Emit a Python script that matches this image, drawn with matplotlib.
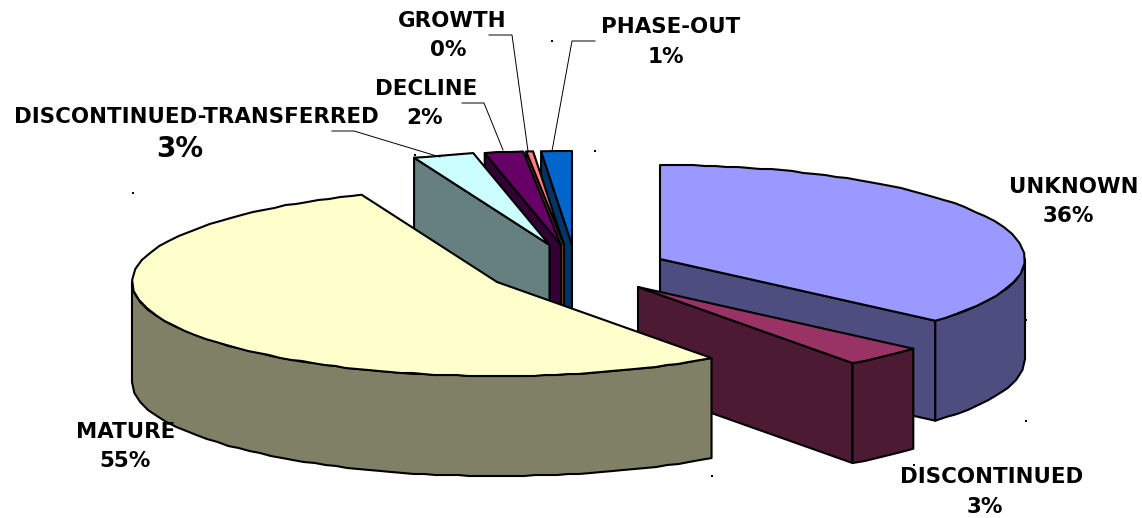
import numpy as np
import matplotlib
matplotlib.use("Agg")
import matplotlib.pyplot as plt

# clockwise from 12 o'clock, shares
slice_names = ["UNKNOWN", "DISCONTINUED", "MATURE", "DISCONTINUED-TRANSFERRED", "DECLINE", "GROWTH", "PHASE-OUT"]
slice_shares = [36.4, 3.6, 53.95, 2.7, 1.7, 0.3, 1.35]
pct_labels = ["36%", "3%", "55%", "3%", "2%", "0%", "1%"]

top_colors = ["#9999FF", "#993366", "#FFFFCC", "#CCFFFF", "#660066", "#FF8080", "#0066CC"]
side_colors = ["#4D4D80", "#4D1A33", "#808066", "#668080", "#330033", "#804040", "#003366"]

# exploded apex of every slice, pixels
apex_x = [660, 638, 497, 549.5, 561, 564, 572]
apex_y = [259, 287, 282, 245, 245, 245, 245]

RX, RY, DEPTH = 365, 94, 100
LW = 1.5
CHORD = 11.0  # the original rim is built from short chords, pixels

# back to front
draw_order = [0, 6, 5, 4, 3, 1, 2]

fig = plt.figure(figsize=(11.42, 5.18), dpi=100)
ax = fig.add_axes([0, 0, 1, 1])
ax.set_xlim(0, 1142)
ax.set_ylim(518, 0)
ax.axis("off")


def rim(cx, cy, a1, a2):
    """Points on the top rim going clockwise from a1 to a2 (degrees)."""
    t = np.radians(np.linspace(a1, a2, 800))
    x = cx + RX * np.cos(t)
    y = cy - RY * np.sin(t)
    length = np.r_[0, np.cumsum(np.hypot(np.diff(x), np.diff(y)))]
    n = max(int(length[-1] / CHORD), 1) + 1
    picks = np.searchsorted(length, np.linspace(0, length[-1], n)).clip(0, 799)
    x, y = x[picks], y[picks]
    y[1:-1] = np.round(y[1:-1])
    return x, y


def draw_cut(cx, cy, angle, color):
    x = cx + RX * np.cos(np.radians(angle))
    y = cy - RY * np.sin(np.radians(angle))
    ax.fill([cx, x, x, cx], [cy, y, y + DEPTH, cy + DEPTH], facecolor=color,
            edgecolor="black", linewidth=LW, joinstyle="round")


def draw_wall(cx, cy, a1, a2, color):
    # only the part of the rim that faces the viewer
    hi, lo = min(a1, 0), max(a2, -180)
    if hi <= lo:
        return
    x, y = rim(cx, cy, hi, lo)
    xs = np.concatenate([x, x[::-1]])
    ys = np.concatenate([y, y[::-1] + DEPTH])
    ax.fill(xs, ys, facecolor=color, edgecolor="black", linewidth=LW, joinstyle="round")


starts = 90 - 3.6 * np.concatenate([[0], np.cumsum(slice_shares)[:-1]])
ends = 90 - 3.6 * np.cumsum(slice_shares)

for i in draw_order:
    cx, cy = apex_x[i], apex_y[i]
    a1, a2 = starts[i], ends[i]
    if np.cos(np.radians(a2)) > 1e-6:
        draw_cut(cx, cy, a2, side_colors[i])
    if np.cos(np.radians(a1)) < -1e-6:
        draw_cut(cx, cy, a1, side_colors[i])
    draw_wall(cx, cy, a1, a2, side_colors[i])
    x, y = rim(cx, cy, a1, a2)
    ax.fill(np.r_[cx, x], np.r_[cy, y], facecolor=top_colors[i], edgecolor="black",
            linewidth=LW, joinstyle="round")

# leader lines
leaders = [
    ([332, 354, 440], [131, 131, 157]),
    ([462, 484, 503], [103, 103, 150]),
    ([489, 512, 528], [35, 35, 151]),
    ([595, 572, 552], [41, 41, 151]),
]
for lx, ly in leaders:
    ax.plot(lx, ly, color="black", linewidth=0.7)

# small selection handles left in the original
dot_x = [133, 415, 552, 595, 1026, 1026, 712, 914]
dot_y = [193, 155, 41, 151, 320, 421, 476, 465]
ax.scatter(dot_x, dot_y, s=2, marker="s", color="black", linewidths=0)

name_x = [1074, 992, 126, 196, 426, 452, 671]
name_y = [187, 477, 432, 117, 89, 21, 27]
pct_x = [1068, 985, 125, 180, 424, 448, 666]
pct_y = [216, 507, 461, 149, 118, 50, 57]
pct_size = [15.5, 15.5, 15.5, 20, 15.5, 15.5, 15.5]

for i, name in enumerate(slice_names):
    ax.text(name_x[i], name_y[i], name, ha="center", va="center",
            fontsize=15.4, fontweight="bold", family="DejaVu Sans", color="black")
    ax.text(pct_x[i], pct_y[i], pct_labels[i], ha="center", va="center",
            fontsize=pct_size[i], fontweight="bold", family="DejaVu Sans", color="black")

fig.savefig("out.png", dpi=100)
